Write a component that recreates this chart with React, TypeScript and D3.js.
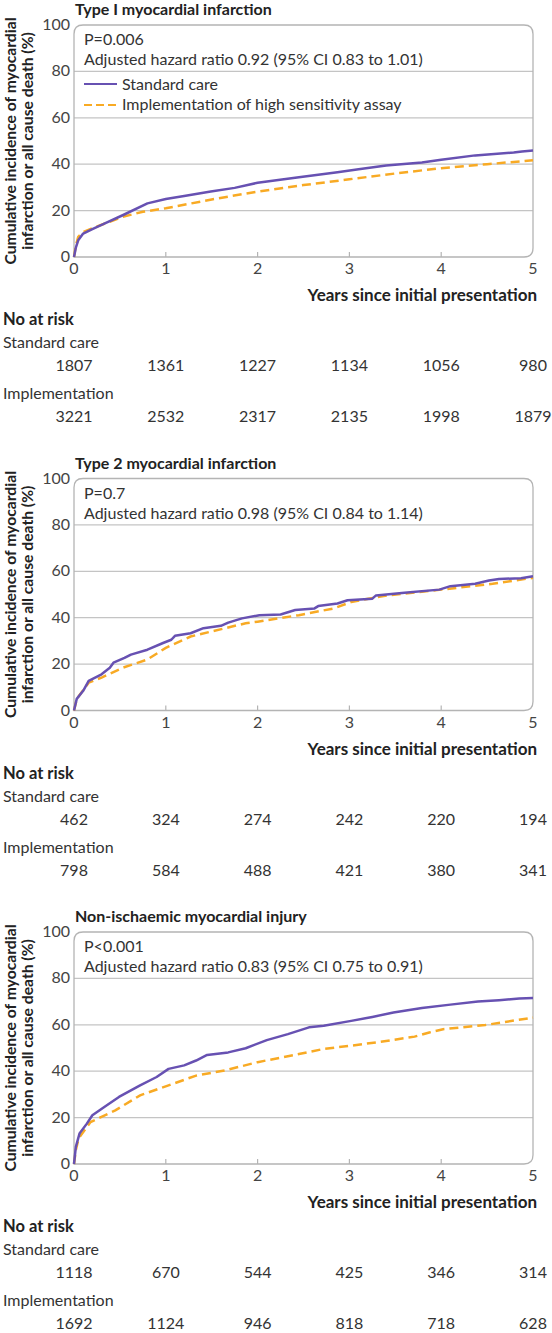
import React from "react";
import * as d3 from "d3";

type Pt = [number, number];

const panelTitles = ["Type I myocardial infarction", "Type 2 myocardial infarction", "Non-ischaemic myocardial injury"];
const pValues = ["P=0.006", "P=0.7", "P<0.001"];
const hazardTexts = [
  "Adjusted hazard ratio 0.92 (95% CI 0.83 to 1.01)",
  "Adjusted hazard ratio 0.98 (95% CI 0.84 to 1.14)",
  "Adjusted hazard ratio 0.83 (95% CI 0.75 to 0.91)",
];
const seriesNames = ["Standard care", "Implementation of high sensitivity assay"];
const riskLabels = ["Standard care", "Implementation"];
const xTicks = [0, 1, 2, 3, 4, 5];
const yTicks = [0, 20, 40, 60, 80, 100];

const type1Standard: Pt[] = [[0,0],[0.02,4],[0.046,7.2],[0.1,10.1],[0.2,12],[0.33,14.4],[0.53,18],[0.8,23.1],[1,25],[1.2,26.3],[1.49,28.2],[1.75,29.8],[2,32],[2.45,34.4],[2.87,36.5],[3.1,37.8],[3.4,39.4],[3.79,40.7],[4,41.9],[4.37,43.8],[4.79,45],[4.88,45.5],[5,45.9]];
const type1Impl: Pt[] = [[0,0],[0.02,5],[0.046,8.7],[0.1,10.8],[0.26,13.3],[0.53,17.3],[0.75,19.5],[1,21],[1.5,24.8],[2,28.2],[2.5,31],[3,33.5],[3.5,36],[4,38.3],[4.5,40],[5,41.7]];

const type2Standard: Pt[] = [[0,0],[0.03,5],[0.1,8.5],[0.16,12.8],[0.3,15.6],[0.39,18.4],[0.43,20.6],[0.55,22.7],[0.62,24.1],[0.8,26.2],[0.97,29.1],[1.06,30.5],[1.1,32.2],[1.27,33.3],[1.41,35.5],[1.6,36.5],[1.68,37.9],[1.83,39.7],[2.02,41.1],[2.25,41.4],[2.41,43.3],[2.62,44],[2.66,45],[2.87,46.1],[2.98,47.5],[3.25,48.2],[3.29,49.6],[3.6,50.8],[3.98,52.1],[4.1,53.6],[4.37,54.6],[4.52,56],[4.63,56.7],[4.87,57],[5,57.9]];
const type2Impl: Pt[] = [[0,0],[0.03,5],[0.16,12],[0.3,14.2],[0.53,18.4],[0.8,22],[1,27],[1.27,31.9],[1.49,34],[1.87,37.6],[2,38.3],[2.45,41.1],[2.83,44],[3.02,46.8],[3.41,49.6],[4,52.1],[4.56,54.6],[5,57.2]];

const nonIschStandard: Pt[] = [[0,0],[0.02,7.4],[0.06,13.1],[0.14,17.4],[0.2,21],[0.33,24.6],[0.49,28.9],[0.72,33.9],[0.9,37.5],[1.03,41],[1.2,42.5],[1.33,44.6],[1.45,47],[1.68,48.1],[1.87,49.9],[2.1,53.4],[2.33,56],[2.56,58.9],[2.72,59.6],[3.02,61.7],[3.25,63.4],[3.48,65.3],[3.79,67.2],[4.1,68.7],[4.4,70],[4.63,70.6],[4.85,71.3],[5,71.5]];
const nonIschImpl: Pt[] = [[0,0],[0.02,6],[0.05,11],[0.18,18.1],[0.45,23.1],[0.72,29.6],[1.03,33.9],[1.33,38.1],[1.64,40.3],[2,43.9],[2.45,47.4],[2.72,49.6],[3.02,51],[3.4,53],[3.71,54.9],[3.87,56.7],[4.02,58.1],[4.48,59.9],[5,63.1]];

const riskType1Standard = [1807, 1361, 1227, 1134, 1056, 980];
const riskType1Impl = [3221, 2532, 2317, 2135, 1998, 1879];
const riskType2Standard = [462, 324, 274, 242, 220, 194];
const riskType2Impl = [798, 584, 488, 421, 380, 341];
const riskNonIschStandard = [1118, 670, 544, 425, 346, 314];
const riskNonIschImpl = [1692, 1124, 946, 818, 718, 628];

const standardSeries = [type1Standard, type2Standard, nonIschStandard];
const implSeries = [type1Impl, type2Impl, nonIschImpl];
const riskStandard = [riskType1Standard, riskType2Standard, riskNonIschStandard];
const riskImpl = [riskType1Impl, riskType2Impl, riskNonIschImpl];

const PURPLE = "#6751b2";
const ORANGE = "#f8aa24";
const FONT = "Lato, 'Open Sans', sans-serif";
const X0 = 74;
const X1 = 533;
const PANEL_H = 232;
const PANEL_STEP = 453.5;
const TOP0 = 25;

function Panel({ idx }: { idx: number }) {
  const top = TOP0 + idx * PANEL_STEP;
  const bottom = top + PANEL_H;
  const x = d3.scaleLinear().domain([0, 5]).range([X0, X1]);
  const y = d3.scaleLinear().domain([0, 100]).range([bottom, top]);
  const line = d3.line<Pt>().x((d) => x(d[0])).y((d) => y(d[1]));
  const r = 9;
  const boxPath = `M${X0},${bottom} L${X0},${top + r} Q${X0},${top} ${X0 + r},${top} L${X1 - r},${top} Q${X1},${top} ${X1},${top + r} L${X1},${bottom - r} Q${X1},${bottom} ${X1 - r},${bottom} Z`;
  const midY = (top + bottom) / 2;
  return (
    <g>
      <text x={X0 + 1} y={top - 10} fontFamily={FONT} fontWeight={700} fontSize={16} fill="#222">{panelTitles[idx]}</text>
      {yTicks.filter((t) => t > 0 && t < 100).map((t) => (
        <line key={t} x1={X0} x2={X1} y1={y(t)} y2={y(t)} stroke="#c4c4c4" strokeWidth={1.2} />
      ))}
      <path d={boxPath} fill="none" stroke="#b4b4b4" strokeWidth={1.3} />
      {xTicks.filter((t) => t > 0 && t < 5).map((t) => (
        <line key={t} x1={x(t)} x2={x(t)} y1={bottom} y2={bottom - 5} stroke="#b4b4b4" strokeWidth={1.2} />
      ))}
      {yTicks.map((t) => (
        <text key={t} x={X0 - 4} y={y(t) + 5} textAnchor="end" fontFamily={FONT} fontSize={16} fill="#444">{t}</text>
      ))}
      {xTicks.map((t) => (
        <text key={t} x={x(t)} y={bottom + 17} textAnchor="middle" fontFamily={FONT} fontSize={16} fill="#444">{t}</text>
      ))}
      <text x={X1 + 4} y={bottom + 44} textAnchor="end" fontFamily={FONT} fontWeight={700} fontSize={17} fill="#222">Years since initial presentation</text>
      <g transform={`translate(15.5,${midY}) rotate(-90)`}>
        <text x={0} y={0} textAnchor="middle" fontFamily={FONT} fontWeight={700} fontSize={15.7} fill="#222">Cumulative incidence of myocardial</text>
        <text x={0} y={17} textAnchor="middle" fontFamily={FONT} fontWeight={700} fontSize={15.7} fill="#222">infarction or all cause death (%)</text>
      </g>
      <text x={X0 + 10} y={top + 20} fontFamily={FONT} fontSize={16} fill="#333">{pValues[idx]}</text>
      <text x={X0 + 10} y={top + 40} fontFamily={FONT} fontSize={16} fill="#333">{hazardTexts[idx]}</text>
      {idx === 0 && (
        <g>
          <line x1={X0 + 10} x2={X0 + 43} y1={top + 59} y2={top + 59} stroke={PURPLE} strokeWidth={2.2} />
          <text x={X0 + 48} y={top + 65} fontFamily={FONT} fontSize={16} fill="#333">{seriesNames[0]}</text>
          <line x1={X0 + 10} x2={X0 + 43} y1={top + 80} y2={top + 80} stroke={ORANGE} strokeWidth={2.2} strokeDasharray="8,4" />
          <text x={X0 + 48} y={top + 85} fontFamily={FONT} fontSize={16} fill="#333">{seriesNames[1]}</text>
        </g>
      )}
      <path d={line(implSeries[idx]) || ""} fill="none" stroke={ORANGE} strokeWidth={2.5} strokeDasharray="9,5" />
      <path d={line(standardSeries[idx]) || ""} fill="none" stroke={PURPLE} strokeWidth={2.5} strokeLinejoin="round" />
      <text x={3} y={bottom + 68} fontFamily={FONT} fontWeight={700} fontSize={16.5} fill="#222">No at risk</text>
      <text x={3} y={bottom + 91} fontFamily={FONT} fontSize={16} fill="#333">{riskLabels[0]}</text>
      {riskStandard[idx].map((v, i) => (
        <text key={i} x={x(xTicks[i])} y={bottom + 114} textAnchor="middle" fontFamily={FONT} fontSize={16} fill="#333">{v}</text>
      ))}
      <text x={3} y={bottom + 142} fontFamily={FONT} fontSize={16} fill="#333">{riskLabels[1]}</text>
      {riskImpl[idx].map((v, i) => (
        <text key={i} x={x(xTicks[i])} y={bottom + 165} textAnchor="middle" fontFamily={FONT} fontSize={16} fill="#333">{v}</text>
      ))}
    </g>
  );
}

export default function App() {
  return (
    <div>
      <style>{`body{margin:0;}`}</style>
      <svg width={552} height={1333} style={{ display: "block" }}>
        <rect width={552} height={1333} fill="#fff" />
        {[0, 1, 2].map((i) => (
          <Panel key={i} idx={i} />
        ))}
      </svg>
    </div>
  );
}
